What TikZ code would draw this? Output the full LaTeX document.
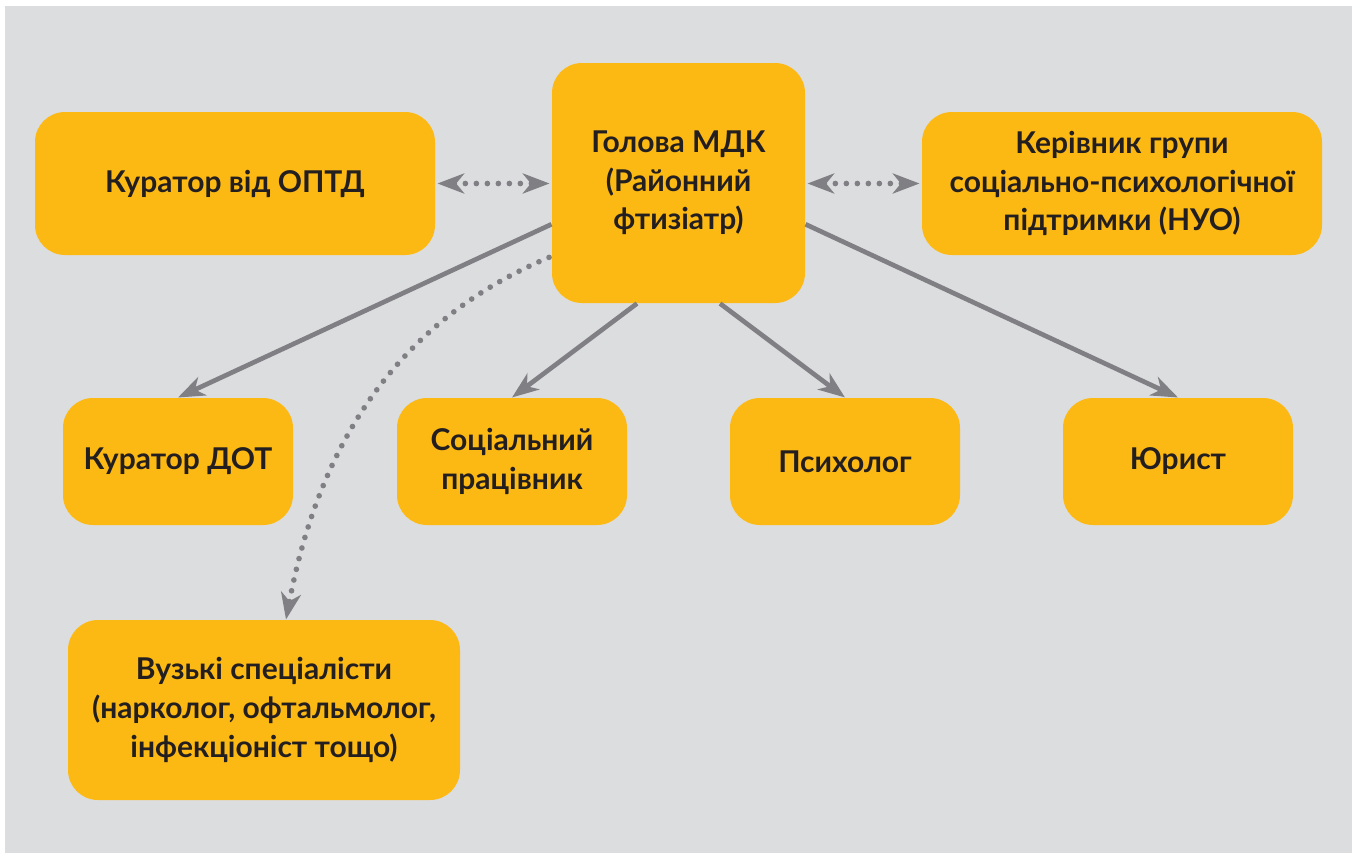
\documentclass[tikz,border=0pt]{standalone}
\usepackage{fontspec}
\setmainfont{Lato}
\usetikzlibrary{arrows.meta}
\definecolor{boxyellow}{RGB}{253,185,19}
\definecolor{pagegrey}{RGB}{220,221,223}
\definecolor{arrowgrey}{RGB}{128,128,132}
\definecolor{textblack}{RGB}{35,31,32}
\tikzset{every picture/.style={line width=0.75pt}}
\tikzset{
  gtip/.tip={Stealth[length=20pt,width=15pt,inset=6pt]},
  card/.style={rectangle, rounded corners=22.5pt, fill=boxyellow, align=center, inner sep=0pt,
    text=textblack, font=\fontsize{22.5}{29}\selectfont\bfseries},
  link/.style={draw=arrowgrey, line width=3.5pt, -{gtip}},
  dotlink/.style={draw=arrowgrey, line width=4.25pt, line cap=round, dash pattern=on 0pt off 8.25pt}
}

\begin{document}
\begin{tikzpicture}[x=0.75pt,y=0.75pt,yscale=-1,xscale=1]
		\useasboundingbox (0,0) rectangle (1360,853);
		\fill [white] (0,0) rectangle (1360,853);
		\fill [pagegrey] (5,6) rectangle (1352,853);
		
		%top row
		\node [card, minimum width=300pt, minimum height=107.25pt] (optd) at (235,183.5) {Куратор від ОПТД};
		\node [card, minimum width=189.75pt, minimum height=180pt] (mdk) at (678.5,183) {Голова МДК\\(Районний\\фтизіатр)};
		\node [card, minimum width=300pt, minimum height=107.25pt] (nuo) at (1122,183.5) {Керівник групи\\соціально-психологічної\\підтримки (НУО)};
		
		%middle row
		\node [card, minimum width=172.5pt, minimum height=95.25pt] (dot) at (178,461.5) {Куратор ДОТ};
		\node [card, minimum width=172.5pt, minimum height=95.25pt] (social) at (512,461.5) {Соціальний\\працівник};
		\node [card, minimum width=172.5pt, minimum height=95.25pt] (psych) at (845,461.5) {Психолог};
		\node [card, minimum width=172.5pt, minimum height=95.25pt] (lawyer) at (1178,461.5) {Юрист};
		
		%bottom
		\node [card, minimum width=294pt, minimum height=135pt] (narrow) at (264,710) {Вузькі спеціалісти\\(нарколог, офтальмолог,\\інфекціоніст тощо)};
		
		\draw [dotlink, {gtip}-{gtip}, shorten <=1.5pt, shorten >=1.5pt] (optd.east) -- (optd.east -| mdk.west);
		\draw [dotlink, {gtip}-{gtip}, shorten <=1.5pt, shorten >=1.5pt] (mdk.east |- nuo.west) -- (nuo.west);
		
		\draw [link] (mdk.198) -- (dot.north);
		\draw [link] (mdk.251) -- (social.north);
		\draw [link] (mdk.289) -- (psych.north);
		\draw [link] (mdk.342) -- (lawyer.north);
		
		%dotted curve to the specialists
		\draw [dotlink, -{gtip}, shorten <=2pt] (mdk.210) .. controls (400,320) and (320,440) .. ([xshift=16.5pt]narrow.north);
		
	\end{tikzpicture}
\end{document}
